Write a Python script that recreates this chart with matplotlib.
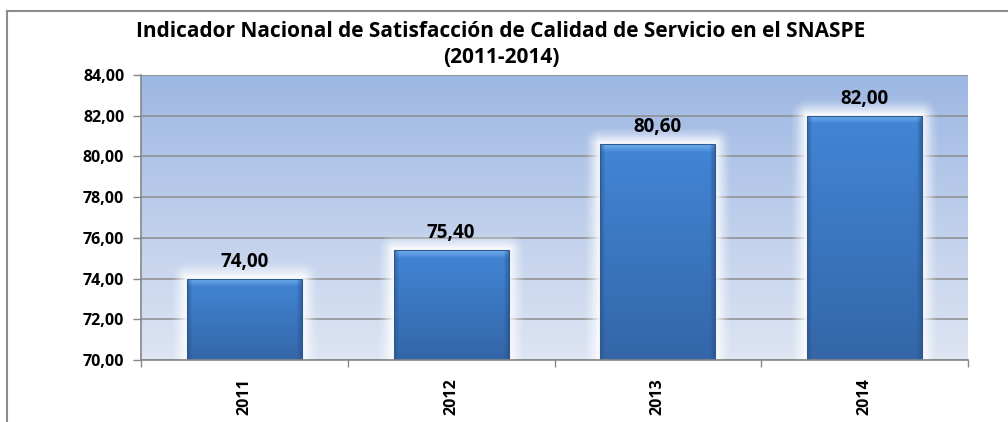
"""Indicador Nacional de Satisfaccion SNASPE, bar chart 2011-2014."""

import matplotlib
matplotlib.use("Agg")
import matplotlib.pyplot as plt
import numpy as np
from matplotlib.lines import Line2D

years = ["2011", "2012", "2013", "2014"]
values = [74.00, 75.40, 80.60, 82.00]
y_min, y_max, y_step = 70.0, 84.0, 2.0

title = ("Indicador Nacional de Satisfacción de Calidad de Servicio en el SNASPE\n"
         "(2011-2014)")

FONT = "Open Sans"
BAR_WIDTH = 0.556
GRID = "#8c8c8c"


def fmt(v):
    return f"{v:.2f}".replace(".", ",")


fig = plt.figure(figsize=(10.08, 4.22), dpi=100)
ax = fig.add_axes([0.1399, 0.1469, 0.8204, 0.6754])

x = np.arange(len(years))
x_lo, x_hi = -0.5, len(years) - 0.5
ax.set_xlim(x_lo, x_hi)
ax.set_ylim(y_min, y_max)

# plot area background: vertical gradient, blue on top, pale at bottom
top_c = np.array([157, 183, 227]) / 255
bot_c = np.array([222, 229, 243]) / 255
t = np.linspace(0, 1, 256)[:, None]
bg = (top_c * (1 - t) + bot_c * t)[:, None, :].repeat(2, axis=1)
ax.imshow(bg, extent=[x_lo, x_hi, y_min, y_max], aspect="auto", zorder=0,
          interpolation="bilinear")

# gridlines
for yv in np.arange(y_min, y_max + 0.01, y_step):
    ax.axhline(yv, color=GRID, lw=1.1, zorder=1)

# white glow around each bar, computed on a pixel grid
nx, ny = 827, 285
px_x = (x_hi - x_lo) / nx
px_y = (y_max - y_min) / ny
gx = np.linspace(x_lo, x_hi, nx)[None, :]
gy = np.linspace(y_max, y_min, ny)[:, None]
alpha = np.zeros((ny, nx))
for xi, v in zip(x, values):
    dx = np.maximum(np.abs(gx - xi) - BAR_WIDTH / 2, 0) / px_x
    dy = np.maximum(gy - v, 0) / px_y
    d = np.hypot(dx, dy)
    a = np.clip(1 - d / 17, 0, 1) ** 1.4
    alpha = np.maximum(alpha, a)
glow = np.ones((ny, nx, 4))
glow[..., 3] = alpha * 0.97
ax.imshow(glow, extent=[x_lo, x_hi, y_min, y_max], aspect="auto", zorder=1.5,
          interpolation="bilinear")

# bars with a bevelled gradient fill
bars = ax.bar(x, [v - y_min for v in values], bottom=y_min, width=BAR_WIDTH,
              color="none", edgecolor="#2d5a93", linewidth=0.8, zorder=3)
for bar, v in zip(bars, values):
    h_px = int(round((v - y_min) / px_y))
    w_px = int(round(BAR_WIDTH / px_x))
    vt = np.linspace(0, 1, h_px)[:, None]
    main_top = np.array([66, 134, 214]) / 255
    main_bot = np.array([52, 102, 168]) / 255
    img = (main_top * (1 - vt) + main_bot * vt)[:, None, :].repeat(w_px, axis=1)
    # lighter top bevel
    bev = 8
    light = np.array([118, 178, 240]) / 255
    for i in range(min(bev, h_px)):
        f = 1 - i / bev
        img[i] = img[i] * (1 - f * 0.9) + light * f * 0.9
    # darker side edges
    dark = np.array([40, 80, 135]) / 255
    side = 5
    for j in range(side):
        f = (1 - j / side) * 0.6
        img[:, j] = img[:, j] * (1 - f) + dark * f
        img[:, -1 - j] = img[:, -1 - j] * (1 - f) + dark * f
    x0 = bar.get_x()
    im = ax.imshow(img, extent=[x0, x0 + BAR_WIDTH, y_min, v], aspect="auto",
                   zorder=2.5, interpolation="bilinear")
    im.set_clip_path(bar)
    ax.text(bar.get_x() + BAR_WIDTH / 2, v + 0.33, fmt(v), ha="center", va="bottom",
            fontsize=13.5, fontweight="bold", family=FONT, color="black", zorder=4)

ax.set_xlim(x_lo, x_hi)
ax.set_ylim(y_min, y_max)

# axes styling
for side in ("top", "right"):
    ax.spines[side].set_visible(False)
for side in ("left", "bottom"):
    ax.spines[side].set_color("#868686")
    ax.spines[side].set_linewidth(1.2)
    ax.spines[side].set_zorder(5)

ax.set_yticks(np.arange(y_min, y_max + 0.01, y_step))
ax.set_yticklabels([fmt(v) for v in np.arange(y_min, y_max + 0.01, y_step)],
                   fontsize=11.5, fontweight="bold", family=FONT)
ax.tick_params(axis="y", length=6, width=1, color="#868686", pad=6)

ax.set_xticks(x)
ax.set_xticklabels(years, rotation=90, fontsize=11.5, fontweight="bold", family=FONT)
ax.tick_params(axis="x", which="major", length=0, pad=13)
ax.set_xticks(np.arange(x_lo, x_hi + 0.01, 1.0), minor=True)
ax.tick_params(axis="x", which="minor", length=5, width=1, color="#868686")

fig.text(0.497, 0.950, title, ha="center", va="top", fontsize=15, fontweight="bold",
         family=FONT, linespacing=1.33)

# chart frame (top and left edges visible, rest runs off the image)
fig.add_artist(Line2D([7 / 1008, 1.0], [1 - 10.5 / 422] * 2, transform=fig.transFigure,
                      color="#8c8c8c", lw=1.5))
fig.add_artist(Line2D([7 / 1008] * 2, [0, 1 - 10.5 / 422], transform=fig.transFigure,
                      color="#8c8c8c", lw=1.5))

fig.savefig("out.png", dpi=100)
